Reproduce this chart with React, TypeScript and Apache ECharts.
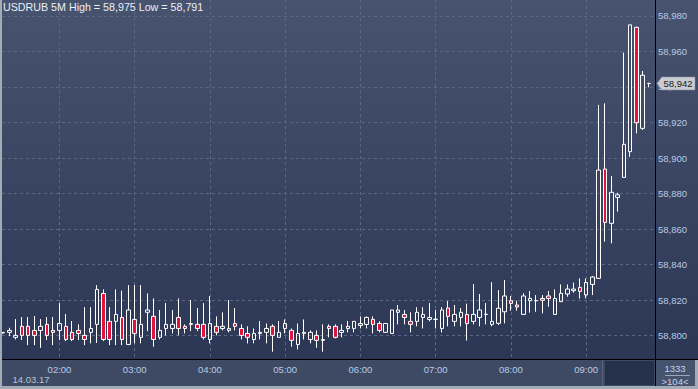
import React, { useEffect, useRef } from "react";
import * as echarts from "echarts";

const TITLE = "USDRUB 5M High = 58,975 Low = 58,791";
const DATE_LABEL = "14.03.17";
const FOOT_TOP = "1333";
const FOOT_BOTTOM = ">104<";
const LAST_PRICE = 58942;

const TIMES = [
  "01:15", "01:20", "01:25", "01:30", "01:35", "01:40", "01:45", "01:50", "01:55",
  "02:00", "02:05", "02:10", "02:15", "02:20", "02:25", "02:30", "02:35", "02:40", "02:45", "02:50", "02:55",
  "03:00", "03:05", "03:10", "03:15", "03:20", "03:25", "03:30", "03:35", "03:40", "03:45", "03:50", "03:55",
  "04:00", "04:05", "04:10", "04:15", "04:20", "04:25", "04:30", "04:35", "04:40", "04:45", "04:50", "04:55",
  "05:00", "05:05", "05:10", "05:15", "05:20", "05:25", "05:30", "05:35", "05:40", "05:45", "05:50", "05:55",
  "06:00", "06:05", "06:10", "06:15", "06:20", "06:25", "06:30", "06:35", "06:40", "06:45", "06:50", "06:55",
  "07:00", "07:05", "07:10", "07:15", "07:20", "07:25", "07:30", "07:35", "07:40", "07:45", "07:50", "07:55",
  "08:00", "08:05", "08:10", "08:15", "08:20", "08:25", "08:30", "08:35", "08:40", "08:45", "08:50", "08:55",
  "09:00", "09:05", "09:10", "09:15", "09:20", "09:25", "09:30", "09:35", "09:40", "09:45", "09:50",
];

const OPEN = [
  58801.5, 58801.8, 58799.0, 58805.2, 58805.2, 58802.9, 58802.9, 58806.3, 58802.9, 58802.9,
  58805.2, 58801.8, 58802.9, 58800.1, 58801.8, 58806.3, 58823.7, 58808.0, 58808.0, 58810.2,
  58795.0, 58809.1, 58799.0, 58813.1, 58810.8, 58799.0, 58804.0, 58804.0, 58810.2, 58805.2,
  58806.3, 58806.3, 58806.3, 58797.8, 58805.2, 58804.0, 58802.9, 58806.8, 58804.0, 58801.2,
  58797.8, 58801.2, 58801.8, 58805.2, 58799.0, 58804.0, 58802.9, 58795.0, 58801.2, 58797.8,
  58800.1, 58797.3, 58805.2, 58805.2, 58801.8, 58804.0, 58804.0, 58805.7, 58806.3, 58809.1,
  58806.8, 58801.8, 58801.2, 58813.1, 58811.9, 58808.0, 58808.0, 58810.2, 58809.1, 58809.1,
  58804.0, 58815.5, 58808.0, 58810.2, 58811.9, 58808.0, 58810.2, 58811.9, 58806.3, 58806.9,
  58813.4, 58819.6, 58817.2, 58811.9, 58819.6, 58819.6, 58820.9, 58822.3, 58811.9, 58819.1,
  58823.4, 58825.3, 58827.1, 58822.9, 58828.8, 58832.2, 58893.8, 58863.2, 58877.8, 58889.1,
  58903.6, 58973.6, 58916.7, 58942.0,
];

const CLOSE = [
  58801.8, 58802.9, 58800.1, 58800.1, 58800.1, 58800.1, 58805.2, 58800.1, 58801.8, 58806.8,
  58797.8, 58797.8, 58801.2, 58797.8, 58804.0, 58826.0, 58797.8, 58797.8, 58811.9, 58797.8,
  58814.4, 58801.2, 58806.3, 58814.4, 58797.8, 58802.9, 58806.3, 58806.3, 58804.0, 58804.0,
  58806.8, 58804.0, 58799.0, 58806.8, 58801.8, 58805.2, 58804.0, 58805.2, 58800.1, 58799.0,
  58801.2, 58801.8, 58804.0, 58800.1, 58801.8, 58806.8, 58797.3, 58801.2, 58801.8, 58801.8,
  58797.3, 58797.8, 58804.0, 58799.0, 58802.9, 58805.2, 58808.0, 58806.8, 58810.2, 58806.3,
  58802.9, 58806.8, 58814.4, 58814.4, 58810.2, 58806.3, 58813.1, 58811.9, 58810.2, 58809.2,
  58814.4, 58810.8, 58811.9, 58813.1, 58806.8, 58811.9, 58814.4, 58812.0, 58808.0, 58815.4,
  58822.3, 58818.1, 58816.1, 58822.3, 58820.9, 58819.7, 58819.9, 58820.9, 58820.9, 58823.8,
  58826.2, 58826.2, 58824.9, 58829.9, 58833.0, 58893.2, 58863.7, 58880.7, 58879.3, 58907.7,
  58975.0, 58919.9, 58946.6, 58942.0,
];

const LOW = [
  58801.0, 58799.7, 58797.8, 58797.5, 58794.6, 58794.6, 58793.1, 58797.5, 58794.6, 58797.5,
  58796.9, 58796.9, 58797.5, 58794.6, 58795.6, 58795.8, 58796.9, 58794.6, 58794.6, 58794.6,
  58794.6, 58795.6, 58795.6, 58802.5, 58793.7, 58797.8, 58800.1, 58801.2, 58800.1, 58801.2,
  58802.5, 58802.5, 58797.8, 58795.6, 58800.1, 58802.9, 58801.8, 58802.9, 58797.8, 58795.6,
  58795.6, 58797.8, 58795.6, 58790.9, 58799.0, 58801.2, 58793.7, 58792.2, 58797.8, 58795.6,
  58793.1, 58790.9, 58799.0, 58798.4, 58799.0, 58801.8, 58801.8, 58804.0, 58804.0, 58801.2,
  58801.8, 58801.8, 58801.2, 58806.3, 58806.3, 58801.8, 58805.2, 58804.0, 58808.0, 58804.0,
  58801.8, 58805.2, 58805.2, 58805.2, 58797.2, 58806.3, 58805.2, 58806.3, 58805.2, 58805.9,
  58806.9, 58814.0, 58814.0, 58811.9, 58812.9, 58813.4, 58812.5, 58816.2, 58811.9, 58819.1,
  58821.9, 58824.1, 58820.9, 58820.9, 58822.8, 58832.0, 58852.9, 58851.9, 58869.8, 58889.1,
  58900.7, 58913.9, 58915.8, 58939.8,
];

const HIGH = [
  58802.0, 58804.4, 58809.3, 58810.4, 58810.4, 58811.0, 58809.3, 58810.4, 58810.4, 58818.3,
  58812.1, 58808.2, 58806.3, 58816.0, 58816.0, 58828.4, 58826.0, 58816.0, 58826.0, 58825.3,
  58828.4, 58828.4, 58828.4, 58823.7, 58820.9, 58814.4, 58818.3, 58814.4, 58820.9, 58806.3,
  58820.0, 58815.5, 58818.3, 58822.2, 58810.8, 58813.1, 58820.0, 58815.5, 58806.3, 58805.2,
  58804.0, 58808.2, 58806.8, 58806.3, 58808.2, 58809.1, 58804.0, 58806.8, 58809.1, 58802.9,
  58802.9, 58806.3, 58806.3, 58806.3, 58806.3, 58808.2, 58808.0, 58810.8, 58810.8, 58810.8,
  58808.0, 58806.8, 58814.4, 58817.2, 58814.4, 58813.1, 58816.0, 58816.0, 58818.3, 58814.4,
  58816.0, 58819.4, 58817.2, 58815.5, 58818.0, 58829.0, 58823.4, 58818.3, 58830.1, 58825.6,
  58831.3, 58822.3, 58819.6, 58823.8, 58825.1, 58822.8, 58822.8, 58825.1, 58826.0, 58828.8,
  58828.8, 58829.9, 58832.2, 58832.2, 58833.5, 58929.9, 58930.8, 58889.9, 58880.5, 58959.4,
  58975.0, 58974.0, 58949.0, 58942.4,
];

const X_MIN = 1.2358;
const X_MAX = 9.9146;
const Y_MIN = 58786.8;
const Y_MAX = 58989.0;

const FONT = "'Liberation Sans', Arial, sans-serif";
const LABEL_COLOR = "#b8cae8";

const toHours = (t: string) => {
  const [h, m] = t.split(":").map(Number);
  return h + m / 60;
};

const fmtPrice = (v: number) => {
  const r = Math.round(v);
  const th = Math.floor(r / 1000);
  const rest = String(r % 1000).padStart(3, "0");
  return th + "," + rest;
};

export default function App() {
  const ref = useRef<HTMLDivElement>(null);

  useEffect(() => {
    if (!ref.current) return;
    const chart = echarts.init(ref.current, undefined, { renderer: "svg" });
    const data = TIMES.map((t, i) => [toHours(t), OPEN[i], CLOSE[i], LOW[i], HIGH[i]]);

    chart.setOption({
      animation: false,
      backgroundColor: "#3e4a63",
      textStyle: { fontFamily: FONT },
      grid: { left: 2, top: 0, width: 653, height: 359, show: false },
      xAxis: {
        type: "value",
        min: X_MIN,
        max: X_MAX,
        splitNumber: 8,
        axisLine: { show: true, lineStyle: { color: "#000000", width: 1 } },
        axisTick: { show: false },
        axisLabel: {
          show: true,
          margin: 5,
          color: LABEL_COLOR,
          fontSize: 9.5,
          fontFamily: FONT,
          showMinLabel: false,
          showMaxLabel: false,
          formatter: (v: number) => {
            if (Math.abs(v - Math.round(v)) > 1e-6) return "";
            return String(Math.round(v)).padStart(2, "0") + ":00";
          },
        },
        splitLine: {
          show: true,
          showMinLine: false,
          showMaxLine: false,
          lineStyle: { color: "#5a6886", type: [3, 3], width: 1 },
        },
      },
      yAxis: {
        type: "value",
        position: "right",
        min: Y_MIN,
        max: Y_MAX,
        splitNumber: 10,
        axisLine: { show: true, lineStyle: { color: "#000000", width: 1 } },
        axisTick: { show: false },
        axisLabel: {
          show: true,
          margin: 3,
          color: LABEL_COLOR,
          fontSize: 9.5,
          fontFamily: FONT,
          showMinLabel: false,
          showMaxLabel: false,
          formatter: (v: number) => {
            if (Math.abs(v / 20 - Math.round(v / 20)) > 1e-6) return "";
            return fmtPrice(v);
          },
        },
        splitLine: {
          show: true,
          showMinLine: false,
          showMaxLine: false,
          lineStyle: { color: "#5a6886", type: [3, 3], width: 1 },
        },
      },
      series: [
        {
          type: "candlestick",
          data,
          encode: { x: 0, y: [1, 2, 3, 4] },
          barWidth: 4,
          clip: true,
          itemStyle: {
            color: "rgba(0,0,0,0)",
            color0: "#e0143c",
            borderColor: "#ffffff",
            borderColor0: "#ffffff",
            borderWidth: 1,
          },
          markPoint: {
            silent: true,
            data: [
              {
                coord: [X_MAX, LAST_PRICE],
                symbol: "path://M0,6 L5,0 L40,0 L40,12 L5,12 Z",
                symbolSize: [38, 13],
                symbolOffset: [21, 0],
                itemStyle: { color: "#c9ccd3", borderColor: "#8a909c", borderWidth: 0.5 },
                label: {
                  show: true,
                  position: "inside",
                  offset: [2, 0],
                  formatter: fmtPrice(LAST_PRICE),
                  color: "#1a1a1a",
                  fontSize: 9.5,
                  fontFamily: FONT,
                },
              },
            ],
          },
        },
      ],
      graphic: [
        {
          type: "rect",
          z: -10,
          silent: true,
          shape: { x: 0, y: 0, width: 698, height: 359 },
          style: {
            fill: new echarts.graphic.LinearGradient(0, 0, 0, 1, [
              { offset: 0, color: "#47536f" },
              { offset: 1, color: "#2b3754" },
            ]),
          },
        },
        {
          type: "rect",
          z: -9,
          silent: true,
          shape: { x: 605, y: 361, width: 49, height: 24 },
          style: { fill: "#253049" },
        },
        {
          type: "line",
          z: -9,
          silent: true,
          shape: { x1: 602.5, y1: 360, x2: 602.5, y2: 386 },
          style: { stroke: "#56627b", lineWidth: 1 },
        },
        {
          type: "rect",
          z: -9,
          silent: true,
          shape: { x: 656, y: 360, width: 42, height: 29 },
          style: { fill: "#46536d" },
        },
        {
          type: "rect",
          z: 20,
          silent: true,
          shape: { x: 0, y: 0, width: 2, height: 389 },
          style: { fill: "#a3abb8" },
        },
        {
          type: "rect",
          z: 20,
          silent: true,
          shape: { x: 0, y: 386, width: 698, height: 3 },
          style: { fill: "#a3abb8" },
        },
        {
          type: "rect",
          z: 20,
          silent: true,
          shape: { x: 695, y: 360, width: 3, height: 29 },
          style: { fill: "#a3abb8" },
        },
        {
          type: "line",
          z: 21,
          silent: true,
          shape: { x1: 655.5, y1: 0, x2: 655.5, y2: 386 },
          style: { stroke: "#000000", lineWidth: 1 },
        },
        {
          type: "line",
          z: 21,
          silent: true,
          shape: { x1: 2, y1: 359.5, x2: 698, y2: 359.5 },
          style: { stroke: "#000000", lineWidth: 1 },
        },
        {
          type: "text",
          z: 21,
          silent: true,
          x: 3,
          y: 7,
          style: {
            text: TITLE,
            fill: "#eceff5",
            fontSize: 10.7,
            fontFamily: FONT,
            align: "left",
            verticalAlign: "middle",
          },
        },
        {
          type: "text",
          z: 21,
          silent: true,
          x: 12.5,
          y: 379.5,
          style: {
            text: DATE_LABEL,
            fill: "#b6c2d6",
            fontSize: 9.5,
            fontFamily: FONT,
            align: "left",
            verticalAlign: "middle",
          },
        },
        {
          type: "text",
          z: 21,
          silent: true,
          x: 675,
          y: 368,
          style: {
            text: FOOT_TOP,
            fill: "#c4d2ea",
            fontSize: 9.5,
            fontFamily: FONT,
            align: "center",
            verticalAlign: "middle",
          },
        },
        {
          type: "line",
          z: 21,
          silent: true,
          shape: { x1: 665, y1: 375.5, x2: 690, y2: 375.5 },
          style: { stroke: "#9aa6bb", lineWidth: 1 },
        },
        {
          type: "text",
          z: 21,
          silent: true,
          x: 675,
          y: 381,
          style: {
            text: FOOT_BOTTOM,
            fill: "#c4d2ea",
            fontSize: 9.5,
            fontFamily: FONT,
            align: "center",
            verticalAlign: "middle",
          },
        },
      ],
    });

    return () => {
      chart.dispose();
    };
  }, []);

  return (
    <div
      ref={ref}
      style={{ position: "fixed", left: 0, top: 0, width: 698, height: 389 }}
    />
  );
}
